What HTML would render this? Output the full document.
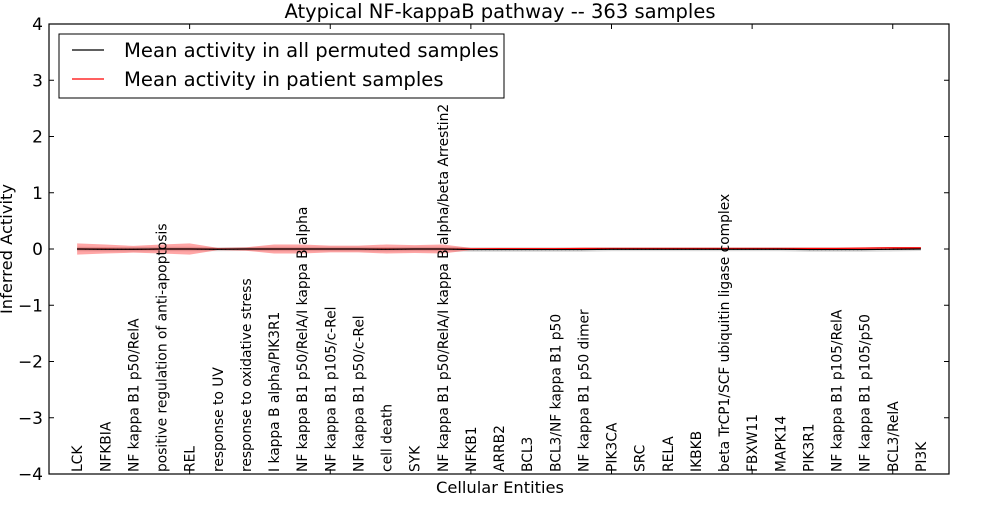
<!DOCTYPE html>
<html><head><meta charset="utf-8"><style>
body{margin:0;background:#fff}
svg text{font-family:"DejaVu Sans","Liberation Sans",sans-serif;fill:#000}
</style></head><body>
<svg id="chart" width="1000" height="500" viewBox="0 0 1000 500" xmlns="http://www.w3.org/2000/svg">
<text x="500" y="18" font-size="19.5" text-anchor="middle">Atypical NF-kappaB pathway -- 363 samples</text>
<g id="plot"></g>
<text x="500" y="493" font-size="16.3" text-anchor="middle">Cellular Entities</text>
<text transform="translate(12,249) rotate(-90)" font-size="16.3" text-anchor="middle">Inferred Activity</text>
<g>
<rect x="59" y="34" width="445" height="64" fill="#fff" stroke="#000" stroke-width="1"/>
<line x1="72" y1="50" x2="104" y2="50" stroke="#000" stroke-width="1.2"/>
<text x="124" y="57" font-size="19.6">Mean activity in all permuted samples</text>
<line x1="72" y1="79" x2="104" y2="79" stroke="#f00" stroke-width="1.2"/>
<text x="124" y="86" font-size="19.6">Mean activity in patient samples</text>
</g>
</svg>
<script>
const categories=["LCK","NFKBIA","NF kappa B1 p50/RelA","positive regulation of anti-apoptosis","REL","response to UV","response to oxidative stress","I kappa B alpha/PIK3R1","NF kappa B1 p50/RelA/I kappa B alpha","NF kappa B1 p105/c-Rel","NF kappa B1 p50/c-Rel","cell death","SYK","NF kappa B1 p50/RelA/I kappa B alpha/beta Arrestin2","NFKB1","ARRB2","BCL3","BCL3/NF kappa B1 p50","NF kappa B1 p50 dimer","PIK3CA","SRC","RELA","IKBKB","beta TrCP1/SCF ubiquitin ligase complex","FBXW11","MAPK14","PIK3R1","NF kappa B1 p105/RelA","NF kappa B1 p105/p50","BCL3/RelA","PI3K"];
const permMean=[0,-0.005,-0.005,0,0,-0.005,0,0,0,0,0,-0.005,0,0,-0.01,-0.01,-0.01,-0.01,-0.01,-0.005,-0.005,-0.005,-0.005,-0.005,-0.005,-0.005,-0.01,-0.01,-0.01,-0.005,0];
const permSd=[0.04,0.04,0.04,0.04,0.04,0.035,0.035,0.04,0.04,0.04,0.04,0.04,0.04,0.04,0.04,0.04,0.04,0.04,0.04,0.035,0.035,0.035,0.035,0.035,0.035,0.035,0.04,0.04,0.04,0.04,0.035];
const patMean=[0,0,-0.005,0,0,0,0,0,0,0,0,0,0,0,0,0.005,0.005,0.005,0.01,0.01,0.01,0.01,0.01,0.01,0.01,0.01,0.01,0.01,0.015,0.02,0.02];
const patSd=[0.1,0.08,0.06,0.08,0.1,0.02,0.03,0.08,0.08,0.06,0.06,0.08,0.07,0.08,0.02,0.015,0.015,0.015,0.015,0.015,0.015,0.015,0.015,0.015,0.015,0.015,0.015,0.015,0.015,0.015,0.015];
const yTicks=[4,3,2,1,0,-1,-2,-3,-4];
const L=49,R=949,T=24,B=474,NS="http://www.w3.org/2000/svg";
const xs=i=>L+(i+1)*(R-L)/32, ys=v=>T+(4-v)*(B-T)/8;
const g=document.getElementById('plot');
function mk(t,a){const e=document.createElementNS(NS,t);for(const k in a)e.setAttribute(k,a[k]);g.appendChild(e);return e;}
function band(m,s,fill,op,name){let p=m.map((v,i)=>xs(i)+','+ys(v+s[i]));for(let i=m.length-1;i>=0;i--)p.push(xs(i)+','+ys(m[i]-s[i]));const e=mk('polygon',{points:p.join(' '),fill:fill,'fill-opacity':op});

}
function line(m,c,name){const e=mk('polyline',{points:m.map((v,i)=>xs(i)+','+ys(v)).join(' '),fill:'none',stroke:c,'stroke-width':1.2});

}
band(permMean,permSd,'#999',0.35,'permuted-band');
band(patMean,patSd,'#f00',0.35,'patient-band');
line(patMean,'#f00','patient-line');
line(permMean,'#000','permuted-line');
const dl=mk('polyline',{points:permMean.map((v,i)=>xs(i)+','+ys(v)).join(' '),fill:'none',stroke:'#000','stroke-width':1,'stroke-dasharray':'1,3'});


categories.forEach((c,i)=>{const t=mk('text',{transform:`translate(${xs(i)+5},472) rotate(-90)`,'font-size':13.8});t.textContent=c;

});
const fr=mk('rect',{x:L,y:T,width:R-L,height:B-T,fill:'none',stroke:'#000','stroke-width':1.2});


yTicks.forEach(v=>{const y=ys(v);mk('line',{x1:L,x2:L+5,y1:y,y2:y,stroke:'#000'});mk('line',{x1:R,x2:R-5,y1:y,y2:y,stroke:'#000'});
const t=mk('text',{x:L-6,y:y+6,'font-size':17,'text-anchor':'end'});t.textContent=(v<0?'\u2212'+(-v):v);

});
for(let k=0;k<=30;k+=5){const x=L+k*(R-L)/32;mk('line',{x1:x,x2:x,y1:T,y2:T+5,stroke:'#000'});mk('line',{x1:x,x2:x,y1:B,y2:B-5,stroke:'#000'});}
</script>
</body></html>
